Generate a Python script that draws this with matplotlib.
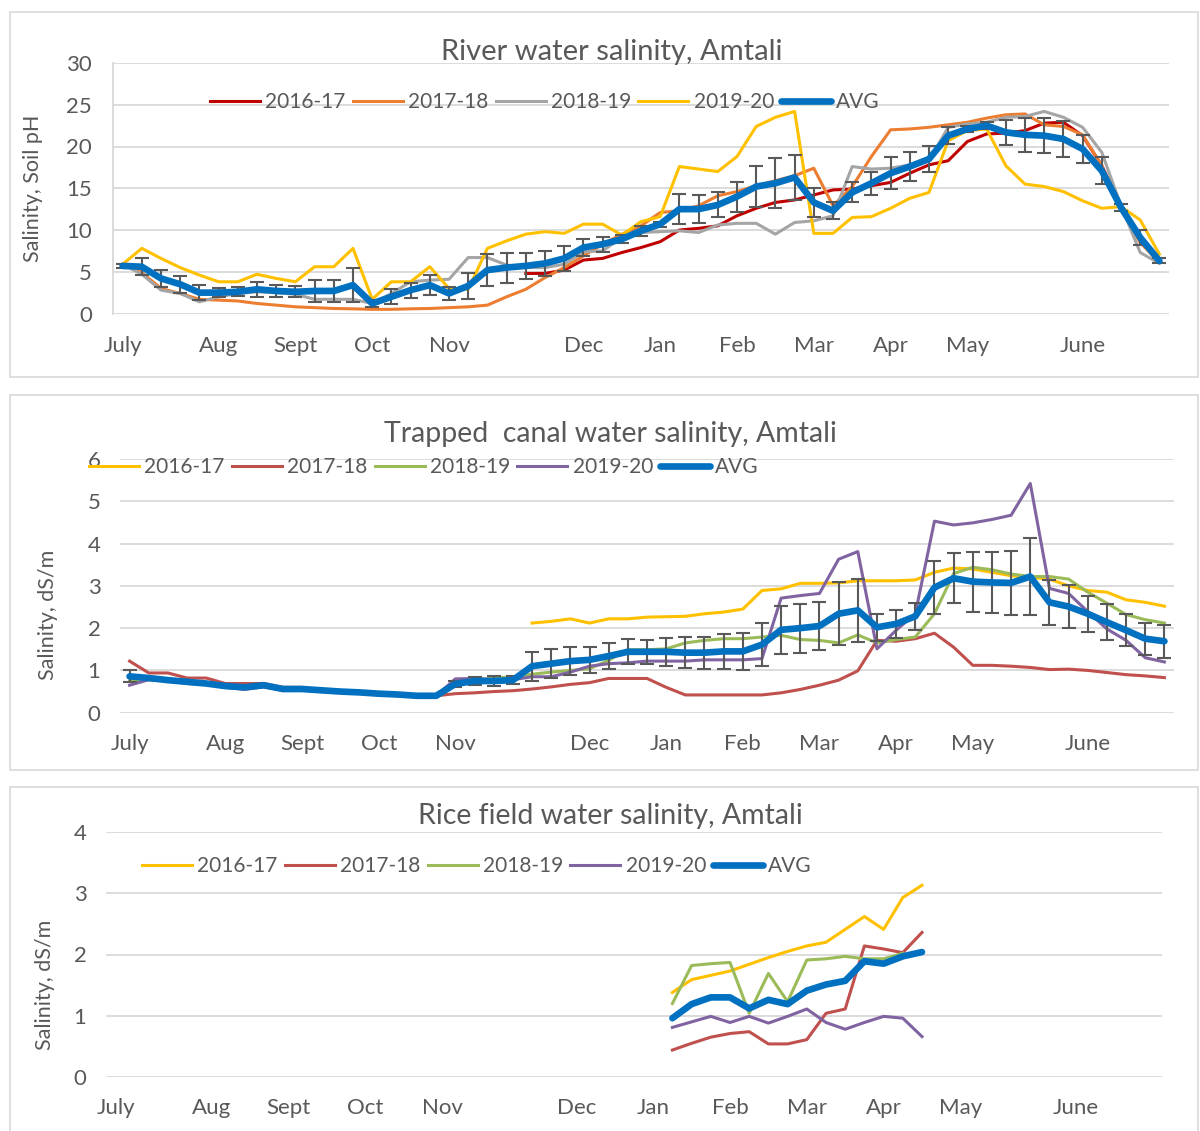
import numpy as np
import matplotlib.pyplot as plt
from matplotlib.patches import Rectangle

W, H = 1200, 1131
TXT = '#595959'
GRID = '#D9D9D9'
nan = np.nan

months = ['July', 'Aug', 'Sept', 'Oct', 'Nov', 'Dec', 'Jan', 'Feb', 'Mar', 'Apr', 'May', 'June']
month_pos = [0, 5, 9, 13, 17, 24, 28, 32, 36, 40, 44, 50]
weeks = np.arange(55)
seasons = ['2016-17', '2017-18', '2018-19', '2019-20', 'AVG']

# --- river water (weekly, July..June)
river_1617 = [nan] * 21 + [
    4.8, 4.8, 5.2, 6.4, 6.6, 7.3, 7.9, 8.6, 10.0, 10.2,
    10.5, 11.7, 12.6, 13.3, 13.6, 14.2, 14.8, 14.9, 15.3, 15.7,
    16.8, 17.8, 18.3, 20.6, 21.5, 21.6, 21.9, 22.8, 22.9, 21.3,
    17.7, 12.9, 8.9, 6.3]
river_1718 = [
    5.9, 4.9, 3.0, 2.4, 1.7, 1.6, 1.5, 1.2, 1.0, 0.8,
    0.7, 0.6, 0.56, 0.5, 0.5, 0.56, 0.6, 0.7, 0.8, 1.0,
    2.0, 2.9, 4.3, 5.5, 6.9, 8.3, 9.5, 10.5, 12.1, 12.3,
    12.9, 14.1, 14.6, 15.3, 15.9, 16.5, 17.4, 12.9, 15.2, 18.8,
    22.0, 22.1, 22.3, 22.6, 22.9, 23.4, 23.8, 23.9, 22.6, 22.4,
    21.4, 17.7, 12.5, 8.5, 6.1]
river_1819 = [
    5.9, 4.7, 2.8, 2.4, 1.4, 2.0, 2.4, 2.6, 2.5, 2.3,
    1.7, 1.7, 1.7, 1.2, 2.4, 3.8, 4.0, 4.1, 6.7, 6.7,
    5.8, 5.5, 5.5, 5.9, 7.4, 7.5, 9.1, 9.7, 9.8, 9.9,
    9.7, 10.6, 10.8, 10.8, 9.5, 10.9, 11.1, 11.7, 17.6, 17.3,
    17.4, 17.8, 18.3, 22.3, 22.7, 22.9, 23.5, 23.6, 24.2, 23.5,
    22.3, 19.3, 12.9, 7.3, 6.0]
river_1920 = [
    5.9, 7.8, 6.6, 5.5, 4.6, 3.8, 3.8, 4.7, 4.2, 3.8,
    5.6, 5.6, 7.8, 1.7, 3.8, 3.8, 5.6, 3.0, 2.9, 7.8,
    8.7, 9.5, 9.8, 9.6, 10.7, 10.7, 9.4, 11.0, 11.6, 17.6,
    17.3, 17.0, 18.8, 22.4, 23.5, 24.2, 9.6, 9.6, 11.5, 11.6,
    12.6, 13.8, 14.5, 20.7, 21.9, 22.1, 17.7, 15.5, 15.2, 14.6,
    13.5, 12.6, 12.8, 11.2, 7.1]
river_avg = [
    5.7, 5.6, 4.2, 3.5, 2.5, 2.5, 2.6, 2.9, 2.7, 2.6,
    2.7, 2.7, 3.4, 1.2, 2.0, 2.8, 3.4, 2.4, 3.3, 5.2,
    5.5, 5.7, 6.0, 6.6, 7.9, 8.3, 8.9, 9.9, 10.7, 12.5,
    12.5, 13.0, 14.0, 15.2, 15.6, 16.3, 13.3, 12.3, 14.5, 15.6,
    16.8, 17.6, 18.5, 21.3, 22.1, 22.5, 21.7, 21.4, 21.3, 20.9,
    19.7, 17.1, 12.7, 9.1, 6.3]
river_err = [
    0.2, 1.0, 1.0, 1.0, 0.9, 0.5, 0.55, 0.9, 0.75, 0.65,
    1.3, 1.35, 2.0, 0.4, 0.9, 0.9, 1.2, 0.75, 1.6, 1.9,
    1.8, 1.6, 1.5, 1.5, 1.0, 0.9, 0.5, 0.6, 0.3, 1.8,
    1.7, 1.5, 1.8, 2.5, 3.0, 2.7, 1.7, 1.0, 1.2, 1.4,
    1.9, 1.7, 1.6, 1.0, 0.4, 0.4, 1.5, 2.0, 2.1, 2.1,
    1.7, 1.6, 0.4, 0.9, 0.3]

# --- trapped canal water
canal_1617 = [nan] * 21 + [
    2.12, 2.16, 2.22, 2.12, 2.22, 2.22, 2.26, 2.27, 2.28,
    2.34, 2.38, 2.45, 2.89, 2.93, 3.06, 3.06, 3.07, 3.12, 3.12,
    3.12, 3.14, 3.32, 3.42, 3.40, 3.32, 3.24, 3.20, 3.16, 3.00,
    2.89, 2.85, 2.67, 2.61, 2.52]
canal_1718 = [
    1.22, 0.94, 0.94, 0.82, 0.82, 0.69, 0.69, 0.69, 0.60, 0.60,
    0.53, 0.50, 0.47, 0.45, 0.42, 0.40, 0.40, 0.45, 0.47, 0.50,
    0.52, 0.56, 0.61, 0.67, 0.71, 0.81, 0.81, 0.81, 0.60, 0.42,
    0.42, 0.42, 0.42, 0.42, 0.47, 0.55, 0.65, 0.77, 0.99, 1.71,
    1.69, 1.75, 1.88, 1.55, 1.12, 1.12, 1.10, 1.07, 1.02, 1.03,
    1.00, 0.95, 0.90, 0.87, 0.83]
canal_1819 = [
    0.75, 0.78, 0.75, 0.72, 0.70, 0.62, 0.60, 0.65, 0.56, 0.55,
    0.52, 0.50, 0.47, 0.47, 0.42, 0.40, 0.42, 0.72, 0.77, 0.82,
    0.85, 0.91, 0.96, 1.00, 1.04, 1.24, 1.49, 1.49, 1.51, 1.65,
    1.71, 1.75, 1.75, 1.79, 1.83, 1.73, 1.71, 1.65, 1.84, 1.65,
    1.73, 1.79, 2.34, 3.29, 3.44, 3.38, 3.28, 3.22, 3.22, 3.16,
    2.85, 2.59, 2.32, 2.20, 2.12]
canal_1920 = [
    0.65, 0.78, 0.75, 0.69, 0.67, 0.60, 0.55, 0.61, 0.53, 0.53,
    0.50, 0.48, 0.46, 0.45, 0.42, 0.40, 0.40, 0.80, 0.81, 0.78,
    0.78, 0.85, 0.85, 0.96, 1.10, 1.16, 1.18, 1.22, 1.22, 1.22,
    1.25, 1.25, 1.25, 1.28, 2.71, 2.77, 2.82, 3.63, 3.81, 1.51,
    1.95, 2.34, 4.53, 4.44, 4.49, 4.57, 4.67, 5.42, 2.94, 2.82,
    2.39, 1.98, 1.71, 1.30, 1.20]
canal_avg = [
    0.86, 0.82, 0.77, 0.73, 0.69, 0.63, 0.60, 0.65, 0.56, 0.56,
    0.53, 0.50, 0.48, 0.45, 0.43, 0.40, 0.40, 0.68, 0.75, 0.75,
    0.77, 1.10, 1.16, 1.22, 1.25, 1.34, 1.44, 1.44, 1.44, 1.42,
    1.42, 1.45, 1.45, 1.61, 1.96, 2.00, 2.05, 2.34, 2.42, 2.02,
    2.10, 2.28, 2.96, 3.18, 3.10, 3.08, 3.07, 3.22, 2.61, 2.51,
    2.34, 2.14, 1.95, 1.75, 1.69]
canal_err = [0.14] + [nan] * 16 + [
    0.08, 0.10, 0.12, 0.10, 0.34, 0.34, 0.33, 0.31, 0.30, 0.30,
    0.29, 0.33, 0.37, 0.38, 0.41, 0.43, 0.51, 0.57, 0.58, 0.57,
    0.74, 0.74, 0.32, 0.33, 0.32, 0.63, 0.59, 0.71, 0.73, 0.75,
    0.90, 0.53, 0.50, 0.43, 0.43, 0.38, 0.38, 0.39]

# --- rice field water (only Jan..Apr measured)
rice_1617 = [nan] * 29 + [1.38, 1.59, 1.66, 1.73, 1.84, 1.95, 2.05, 2.14, 2.20, 2.41, 2.62, 2.41, 2.93, 3.13] + [nan] * 12
rice_1718 = [nan] * 29 + [0.44, 0.55, 0.65, 0.71, 0.74, 0.54, 0.54, 0.61, 1.04, 1.11, 2.14, 2.09, 2.03, 2.36] + [nan] * 12
rice_1819 = [nan] * 29 + [1.20, 1.82, 1.85, 1.87, 1.04, 1.69, 1.23, 1.91, 1.93, 1.97, 1.93, 1.93, 2.02, nan] + [nan] * 12
rice_1920 = [nan] * 29 + [0.81, 0.90, 0.99, 0.89, 0.99, 0.88, 0.99, 1.11, 0.89, 0.78, 0.89, 0.99, 0.96, 0.66] + [nan] * 12
rice_avg = [nan] * 29 + [0.96, 1.19, 1.30, 1.30, 1.12, 1.26, 1.19, 1.41, 1.51, 1.57, 1.89, 1.85, 1.97, 2.04] + [nan] * 12

river_colors = ['#C00000', '#ED7D31', '#A5A5A5', '#FFC000', '#0070C0']
canal_colors = ['#FFC000', '#C0504D', '#9BBB59', '#8064A2', '#0070C0']

plt.rcParams['font.family'] = ['Lato', 'DejaVu Sans']

fig = plt.figure(figsize=(W / 100, H / 100), dpi=100)


def panel_axes(l, t, r, b):
    return fig.add_axes([l / W, 1 - b / H, (r - l) / W, (b - t) / H])


def frame(t, b):
    fig.patches.append(Rectangle((10 / W, 1 - b / H), 1188 / W, (b - t) / H,
                                 transform=fig.transFigure, fill=False, ec=GRID, lw=1.2))


def style(ax, ymax, ystep, ypad, xpad):
    ax.set_xlim(-0.5, 54.5)
    ax.set_ylim(0, ymax)
    ax.set_yticks(range(0, ymax + 1, ystep))
    ax.set_xticks(month_pos, months)
    ax.grid(axis='y', color=GRID, lw=1.3)
    ax.set_axisbelow(True)
    for s in ax.spines.values():
        s.set_visible(False)
    ax.tick_params(length=0, labelsize=16, labelcolor=TXT)
    ax.tick_params(axis='y', pad=ypad)
    ax.tick_params(axis='x', pad=xpad)


def draw(ax, series, colors, avg, err):
    handles = []
    for s, c in zip(series, colors[:4]):
        h, = ax.plot(weeks, s, color=c, lw=2.2, zorder=3)
        handles.append(h)
    if err is not None:
        ax.errorbar(weeks, avg, yerr=err, fmt='none', ecolor=TXT, elinewidth=1.5,
                    capsize=5, capthick=1.5, zorder=4)
    h, = ax.plot(weeks, avg, color=colors[4], lw=4.8, zorder=5, solid_capstyle='round')
    handles.append(h)
    return handles


def legend(ax, handles, cx, cy):
    ax.legend(handles, seasons, ncol=5, loc='center', bbox_to_anchor=(cx / W, 1 - cy / H),
              bbox_transform=fig.transFigure, frameon=False, fontsize=15, labelcolor=TXT,
              handlelength=2.4, handletextpad=0.25, columnspacing=0.35)


# panel 1
frame(12, 377)
ax1 = panel_axes(113, 63, 1169, 313.5)
style(ax1, 30, 5, 15, 16)
ax1.spines['left'].set_visible(True)
ax1.spines['left'].set_color(GRID)
ax1.spines['left'].set_linewidth(1.3)
hs = draw(ax1, [river_1617, river_1718, river_1819, river_1920], river_colors, river_avg, river_err)
legend(ax1, hs, 545, 102)
fig.text(612 / W, 1 - 52 / H, 'River water salinity, Amtali', ha='center', va='center', fontsize=21, color=TXT)
fig.text(33 / W, 1 - 188 / H, 'Salinity, Soil pH', ha='center', va='center', rotation=90, fontsize=15.5, color=TXT)

# panel 2
frame(395, 770)
ax2 = panel_axes(120, 459, 1174, 712.7)
style(ax2, 6, 1, 14, 15)
hs = draw(ax2, [canal_1617, canal_1718, canal_1819, canal_1920], canal_colors, canal_avg, canal_err)
legend(ax2, hs, 424, 467)
fig.text(610 / W, 1 - 434 / H, 'Trapped  canal water salinity, Amtali', ha='center', va='center', fontsize=20.5, color=TXT)
fig.text(48 / W, 1 - 615 / H, 'Salinity, dS/m', ha='center', va='center', rotation=90, fontsize=15.5, color=TXT)

# panel 3
frame(787, 1140)
ax3 = panel_axes(106, 832, 1162, 1077)
style(ax3, 4, 1, 14, 15)
hs = draw(ax3, [rice_1617, rice_1718, rice_1819, rice_1920], canal_colors, rice_avg, None)
legend(ax3, hs, 477, 866)
fig.text(610 / W, 1 - 816 / H, 'Rice field water salinity, Amtali', ha='center', va='center', fontsize=20.5, color=TXT)
fig.text(45 / W, 1 - 985 / H, 'Salinity, dS/m', ha='center', va='center', rotation=90, fontsize=15.5, color=TXT)

fig.savefig('out.png', dpi=100)
